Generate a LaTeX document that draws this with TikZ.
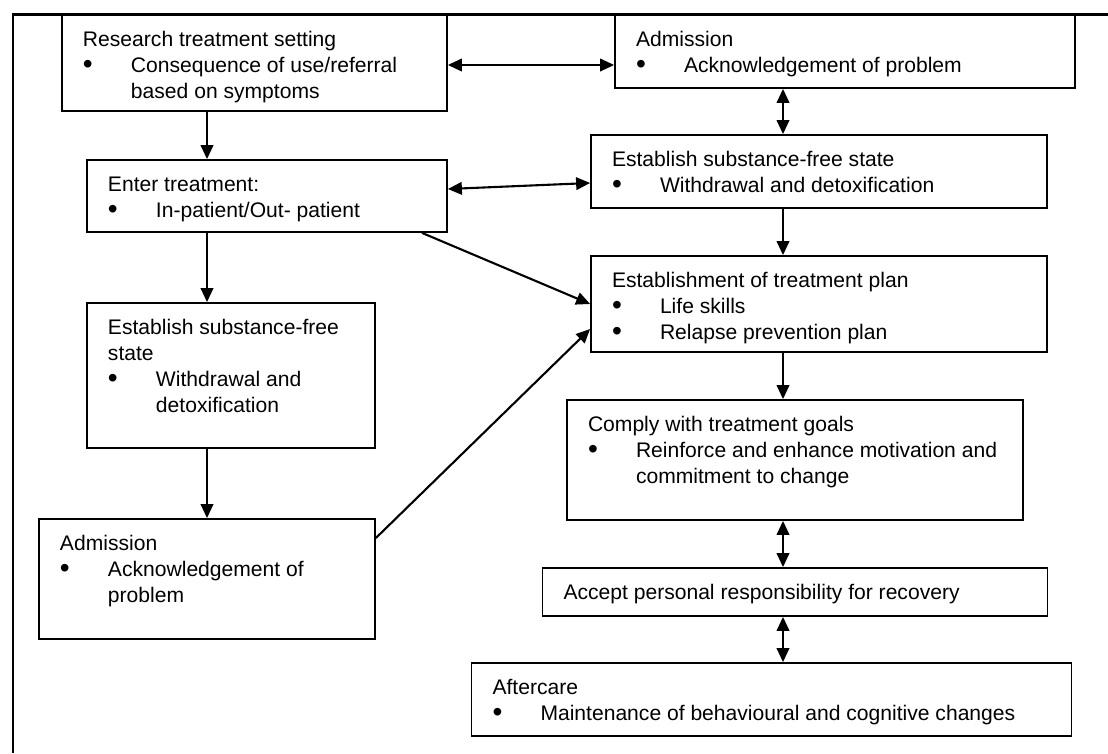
\documentclass[tikz,border=0pt]{standalone}
\usepackage{fontspec}
\setmainfont{Liberation Sans}
\usepackage{tikz}
\usetikzlibrary{positioning, arrows.meta}
\tikzstyle{stage} = [rectangle, draw=black, line width=1pt, inner sep=0pt, font=\fontsize{12}{14.8}\selectfont]
\tikzstyle{arrow} = [line width=1.2pt,->,>={Triangle[length=0.28cm,width=0.25cm]}]
\tikzstyle{darrow} = [line width=1.2pt,<->,>={Triangle[length=0.28cm,width=0.25cm]}]
\newcommand{\stagetext}[3]{\parbox[c][#2][t]{#1}{\raggedright\leftskip=0.42cm\rule{0pt}{0.62cm}#3}}
\newcommand{\bitem}[1]{\par\hangindent=0.96cm\hangafter=1\makebox[0.96cm][l]{\raisebox{-0.9pt}{\fontsize{16}{14.8}\selectfont\textbullet}}#1}

\begin{document}
\begin{tikzpicture}
				[node distance=2cm]
				\useasboundingbox (0,0) rectangle (22.16,-15.06);

				\node (research) [stage] at (5.09,-1.26) {\stagetext{7.70cm}{1.92cm}{Research treatment setting\bitem{Consequence of use/referral\newline based on symptoms}}};
				\node (enter) [stage, below of = research, xshift = 0.25cm, yshift = -0.66cm] {\stagetext{7.20cm}{1.44cm}{Enter treatment:\bitem{In-patient/Out- patient}}};
				\node (estL) [stage, below of = enter, xshift = -0.72cm, yshift = -1.59cm] {\stagetext{5.76cm}{2.90cm}{Establish substance-free\newline state\bitem{Withdrawal and\newline detoxification}}};
				\node (admL) [stage, below of = estL, xshift = -0.48cm, yshift = -2.07cm] {\stagetext{6.72cm}{2.40cm}{Admission\bitem{Acknowledgement of\newline problem}}};
				\node (admR) [stage, right of = research, xshift = 9.81cm, yshift = 0.23cm] {\stagetext{9.20cm}{1.46cm}{Admission\bitem{Acknowledgement of problem}}};
				\node (estR) [stage, below of = admR, xshift = -0.52cm, yshift = -0.40cm] {\stagetext{9.12cm}{1.46cm}{Establish substance-free state\bitem{Withdrawal and detoxification}}};
				\node (plan) [stage, below of = estR, yshift = -0.65cm] {\stagetext{9.12cm}{1.92cm}{Establishment of treatment plan\bitem{Life skills}\bitem{Relapse prevention plan}}};
				\node (comply) [stage, below of = plan, xshift = -0.48cm, yshift = -1.12cm] {\stagetext{9.12cm}{2.40cm}{Comply with treatment goals\bitem{Reinforce and enhance motivation and\newline commitment to change}}};
				\node (accept) [stage, below of = comply, yshift = -0.64cm] {\stagetext{10.10cm}{0.96cm}{Accept personal responsibility for recovery}};
				\node (after) [stage, below of = accept, xshift = -0.47cm, yshift = -0.15cm] {\stagetext{12.00cm}{1.46cm}{Aftercare\bitem{Maintenance of behavioural and cognitive changes}}};

				% outer frame, top and left only
				\draw [line width=1.7pt] (0.24,-0.29) -- (22.16,-0.29);
				\draw [line width=1.14pt] (0.26,-0.27) -- (0.26,-15.06);

				\coordinate (lcol) at (4.14,0);
				\coordinate (rcol) at (15.66,0);
				\coordinate (toprow) at (0,-1.30);

				\draw [arrow] (research.south -| lcol) -- (enter.north -| lcol);
				\draw [arrow] (enter.south -| lcol) -- (estL.north -| lcol);
				\draw [arrow] (estL.south -| lcol) -- (admL.north -| lcol);
				\draw [darrow] (research.east |- toprow) -- (admR.west |- toprow);
				\draw [darrow] ([yshift=0.14cm]enter.east) -- ([yshift=-0.23cm]estR.west);
				\draw [darrow] (admR.south -| rcol) -- (estR.north -| rcol);
				\draw [arrow] (estR.south -| rcol) -- (plan.north -| rcol);
				\draw [arrow] ([xshift=3.10cm]enter.south) -- (plan.west);
				\draw [arrow] ([yshift=0.82cm]admL.east) -- ([yshift=-0.50cm]plan.west);
				\draw [arrow] (plan.south -| rcol) -- (comply.north -| rcol);
				\draw [darrow] (comply.south -| rcol) -- (accept.north -| rcol);
				\draw [darrow] (accept.south -| rcol) -- (after.north -| rcol);
			\end{tikzpicture}
\end{document}
